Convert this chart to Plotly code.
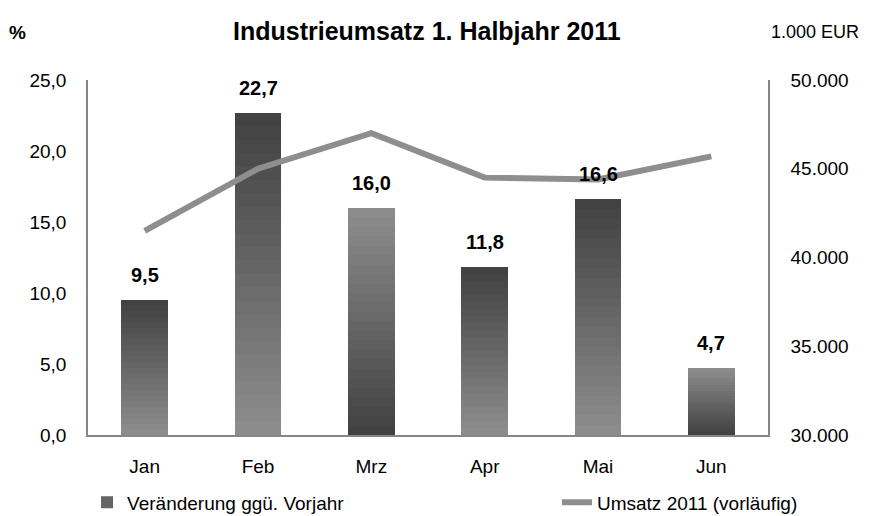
import plotly.graph_objects as go

# ---- data ----
months = ["Jan", "Feb", "Mrz", "Apr", "Mai", "Jun"]
change_pct = [9.5, 22.7, 16.0, 11.8, 16.6, 4.7]
revenue_teur = [41500, 45000, 47000, 44500, 44400, 45700]
left_ticks = [0, 5, 10, 15, 20, 25]
right_ticks = [30000, 35000, 40000, 45000, 50000]

# ---- style ----
dark_top = [True, True, False, True, True, False]  # gradient direction per bar
DARK = (64, 64, 64)
LIGHT = (142, 142, 142)
N_SEG = 24
FONT = "Liberation Sans, Arial, sans-serif"
FS = 19


def mix(a, b, t):
    return "rgb(%d,%d,%d)" % tuple(round(a[i] + (b[i] - a[i]) * t) for i in range(3))


fig = go.Figure()

# gradient bars: each bar split into N_SEG stacked slices
for k in range(N_SEG):
    t = (k + 0.5) / N_SEG  # 0 = bottom, 1 = top
    colors = []
    for d in dark_top:
        colors.append(mix(LIGHT, DARK, t) if d else mix(DARK, LIGHT, t))
    fig.add_trace(go.Bar(
        x=months,
        y=[v / N_SEG for v in change_pct],
        marker=dict(color=colors, line=dict(width=0)),
        width=0.41,
        showlegend=(k == N_SEG // 2),
        name="Veränderung ggü. Vorjahr",
        legendgroup="bars",
        legend="legend",
        hoverinfo="skip",
    ))

fig.add_trace(go.Scatter(
    x=months,
    y=revenue_teur,
    mode="lines",
    line=dict(color="#8e8e8e", width=6),
    name="Umsatz 2011 (vorläufig)",
    yaxis="y2",
    legend="legend2",
))

for m, v in zip(months, change_pct):
    fig.add_annotation(
        x=m, y=v, xref="x", yref="y",
        text=("%.1f" % v).replace(".", ","),
        showarrow=False, yanchor="bottom", yshift=12,
        font=dict(family=FONT, size=20, color="#000000", weight="bold"),
    )

fig.add_annotation(text="<b>Industrieumsatz 1. Halbjahr 2011</b>", xref="paper", yref="paper",
                   x=0.4985, y=1.0, yshift=49, xanchor="center", yanchor="middle", showarrow=False,
                   font=dict(family=FONT, size=25, color="#000000"))
fig.add_annotation(text="<b>%</b>", xref="paper", yref="paper",
                   x=-0.103, y=1.0, yshift=48, xanchor="center", yanchor="middle", showarrow=False,
                   font=dict(family=FONT, size=FS, color="#000000"))
fig.add_annotation(text="1.000 EUR", xref="paper", yref="paper",
                   x=1.0015, y=1.0, yshift=48, xanchor="left", yanchor="middle", showarrow=False,
                   font=dict(family=FONT, size=18, color="#000000"))

fig.update_layout(
    width=861, height=508,
    template="none",
    separators=",.",
    barmode="stack",
    bargap=0,
    paper_bgcolor="white", plot_bgcolor="white",
    margin=dict(l=80, r=101, t=72, b=81),
    font=dict(family=FONT, size=FS, color="#000000"),
    xaxis=dict(showgrid=False, showline=True, linecolor="#868686", linewidth=1.5,
               ticks="", ticklabelstandoff=13, zeroline=False,
               tickfont=dict(size=FS)),
    yaxis=dict(range=[0, 25], tickvals=left_ticks, tickformat=".1f", showgrid=False,
               showline=True, linecolor="#868686", linewidth=1.5, ticks="",
               ticklabelstandoff=16, zeroline=False, tickfont=dict(size=FS)),
    yaxis2=dict(range=[30000, 50000], tickvals=right_ticks, tickformat=",d", overlaying="y",
                side="right", showgrid=False, showline=True, linecolor="#868686", linewidth=1.5,
                ticks="", ticklabelstandoff=17, zeroline=False, tickfont=dict(size=FS)),
    legend=dict(xref="container", yref="container", x=0.0918, y=0.027,
                xanchor="left", yanchor="middle", orientation="h",
                bgcolor="rgba(0,0,0,0)", font=dict(size=FS)),
    legend2=dict(xref="container", yref="container", x=0.6376, y=0.027,
                 xanchor="left", yanchor="middle", orientation="h",
                 bgcolor="rgba(0,0,0,0)", font=dict(size=FS)),
)

fig.write_html("out.html")
